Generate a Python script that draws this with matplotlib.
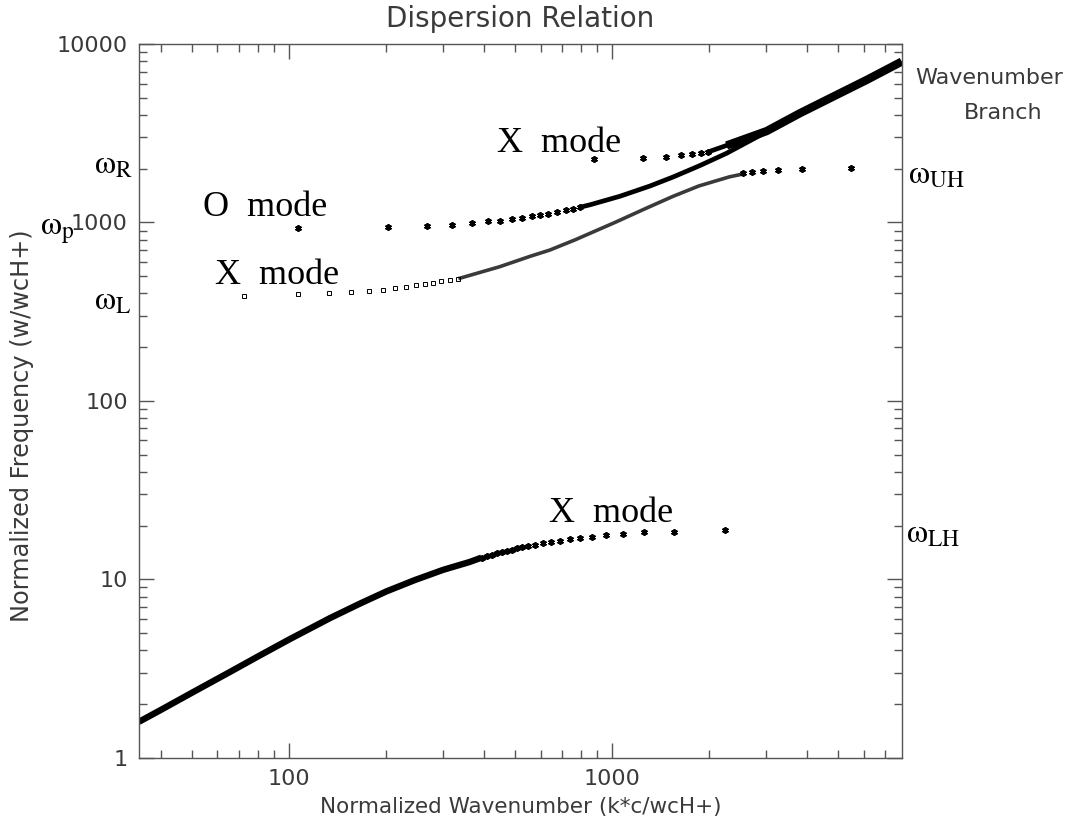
import matplotlib
matplotlib.use("Agg")
import matplotlib.pyplot as plt
from matplotlib.ticker import LogLocator, FixedLocator, NullFormatter

# lower X mode, below w_LH: continuous part and the separate points
low_line_k = [34.3, 39.8, 50.4, 65.5, 81.1, 100.5, 133.6, 165.5, 200, 245, 300, 362, 394]
low_line_w = [1.59, 1.84, 2.33, 3.02, 3.74, 4.62, 6.05, 7.3, 8.55, 9.9, 11.3, 12.5, 13.22]
low_k = [394, 408.5, 423.2, 438.5, 454.4, 471.0, 488.0, 505.7, 524.0, 549.6, 576.4, 611.6,
         645.9, 688.8, 739.6, 794.3, 863.3, 955.9, 1076.7, 1257, 1556, 2234]
low_w = [13.22, 13.51, 13.74, 13.98, 14.22, 14.47, 14.66, 14.91, 15.11, 15.37, 15.64, 15.91,
         16.19, 16.47, 16.83, 17.12, 17.34, 17.64, 18.03, 18.34, 18.49, 18.81]

# O mode from w_p
o_k = [106.6, 203, 268, 320, 369, 413, 449, 488, 524, 563, 597, 635, 675, 718, 754, 793]
o_w = [927, 939, 955, 972, 991, 1016, 1024, 1043, 1060, 1080, 1098, 1119, 1142, 1168, 1190, 1215]
o_line_k = [793, 853, 1057, 1309, 1542, 1866, 2259, 3006]
o_line_w = [1215, 1255, 1402, 1600, 1796, 2081, 2440, 3220]

# X mode from w_L up to w_UH
xl_k = [72.6, 106.6, 133.1, 155.3, 176.2, 194.6, 212.5, 229.8, 246.7, 263, 279, 296, 315, 334]
xl_w = [387, 396, 401, 406, 413, 420, 427, 436, 444, 452, 460, 468, 476, 484]
xl_line_k = [334, 449, 556, 641, 769, 1020, 1273, 1542, 1853, 2304, 2547]
xl_line_w = [484, 565, 645, 700, 800, 1000, 1200, 1400, 1600, 1800, 1870]
uh_k = [2547, 2706, 2938, 3253, 3857, 5503]
uh_w = [1888, 1910, 1935, 1969, 1987, 2022]

# X mode from w_R
xr_k = [879, 1242, 1463, 1632, 1762, 1884, 1983]
xr_w = [2261, 2291, 2321, 2385, 2412, 2443, 2485]
xr_line_k = [1983, 2259, 3006]
xr_line_w = [2485, 2700, 3250]

# both upper branches merged along the light line
top_k = [2259, 3006, 3811, 4831, 6133, 7870]
top_w = [2700, 3250, 4093, 5072, 6290, 7966]

W, H = 1071, 834
plt.rcParams['mathtext.fontset'] = 'stix'
fig = plt.figure(figsize=(W / 100, H / 100), dpi=100)
ax = fig.add_axes([139 / W, 1 - 757.7 / H, (902 - 139) / W, (757.7 - 44) / H])

ax.set_xscale('log')
ax.set_yscale('log')
ax.set_xlim(34.3, 7888)
ax.set_ylim(1, 10000)

star = dict(marker=(6, 2, 0), linestyle='none', color='black', markersize=4.8, markeredgewidth=1.3)
sq = dict(marker='s', linestyle='none', markerfacecolor='none', markeredgecolor='black',
          markersize=2.8, markeredgewidth=0.7)

ax.plot(low_line_k, low_line_w, color='black', lw=4.6, solid_capstyle='butt')
ax.plot(low_k, low_w, **star)

ax.plot(o_line_k, o_line_w, color='black', lw=3.4, solid_capstyle='butt')
ax.plot(o_k, o_w, **star)

ax.plot(xl_line_k, xl_line_w, color='#3a3a3a', lw=2.6, solid_capstyle='butt')
ax.plot(xl_k, xl_w, **sq)
ax.plot(uh_k, uh_w, **star)

ax.plot(xr_line_k, xr_line_w, color='black', lw=3.4, solid_capstyle='butt')
ax.plot(xr_k, xr_w, **star)
ax.plot(top_k, top_w, color='black', lw=6, solid_capstyle='butt')

# axes and ticks
axis_col = '#555555'
text_col = '#3a3a3a'
for s in ax.spines.values():
    s.set_color(axis_col)
    s.set_linewidth(1.0)

ax.xaxis.set_major_locator(FixedLocator([100, 1000]))
ax.xaxis.set_minor_locator(LogLocator(base=10, subs=range(2, 10)))
ax.xaxis.set_minor_formatter(NullFormatter())
ax.set_xticklabels(['100', '1000'])
ax.yaxis.set_major_locator(FixedLocator([1, 10, 100, 1000, 10000]))
ax.yaxis.set_minor_locator(LogLocator(base=10, subs=range(2, 10)))
ax.yaxis.set_minor_formatter(NullFormatter())
ax.set_yticklabels(['1', '10', '100', '1000', '10000'])

ax.tick_params(which='both', direction='in', top=True, right=True, color=axis_col,
               labelcolor=text_col, labelsize=16)
ax.tick_params(which='major', length=10.5, width=1.0, pad=8)
ax.tick_params(which='minor', length=5.5, width=1.0)

ax.set_title('Dispersion Relation', fontsize=20, color=text_col, pad=12)
ax.set_xlabel('Normalized Wavenumber (k*c/wcH+)', fontsize=15.5, color=text_col, labelpad=6)
ax.set_ylabel('Normalized Frequency (w/wcH+)', fontsize=17.3, color=text_col)
ax.yaxis.set_label_coords(-0.138, 0.465)


def at(x, y):
    return x / W, 1 - y / H


mode_font = dict(family='Liberation Serif', fontsize=26, color='black', ha='center', va='center')
fig.text(*at(265, 208), 'O  mode', **mode_font)
fig.text(*at(277, 275), 'X  mode', **mode_font)
fig.text(*at(559, 144), 'X  mode', **mode_font)
fig.text(*at(611, 514), 'X  mode', **mode_font)

omega_font = dict(fontsize=24, color='black', ha='left', va='center')
fig.text(*at(94, 164), r'$\mathrm{\omega_{R}}$', **omega_font)
fig.text(*at(40, 229), r'$\mathrm{\omega_{p}}$', **omega_font)
fig.text(*at(94, 300), r'$\mathrm{\omega_{L}}$', **omega_font)
fig.text(*at(908, 174), r'$\mathrm{\omega_{UH}}$', **omega_font)
fig.text(*at(906, 533), r'$\mathrm{\omega_{LH}}$', **omega_font)

fig.text(*at(989, 78), 'Wavenumber', fontsize=16, color=text_col, ha='center', va='center')
fig.text(*at(1003, 113), 'Branch', fontsize=16, color=text_col, ha='center', va='center')

fig.savefig('out.png', dpi=100)
